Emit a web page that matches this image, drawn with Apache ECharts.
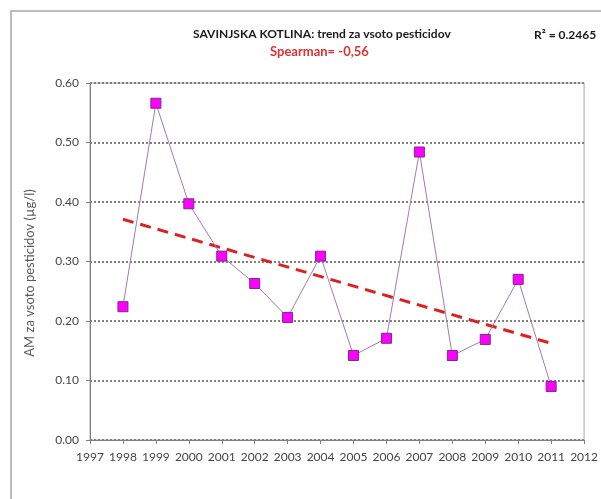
<!DOCTYPE html>
<html><head><meta charset="utf-8">
<script src="https://cdn.jsdelivr.net/npm/echarts@6/dist/echarts.min.js"></script>
<style>html,body{margin:0;padding:0;background:#fff}#c{width:601px;height:499px}</style>
</head><body><div id="c"></div>
<script>
const years = [1998,1999,2000,2001,2002,2003,2004,2005,2006,2007,2008,2009,2010,2011];
const values = [0.224,0.566,0.397,0.309,0.263,0.206,0.309,0.142,0.171,0.484,0.142,0.169,0.270,0.090];
const trendYears = [1998, 2011];
const trendValues = [0.371, 0.1625];
const titleText = 'SAVINJSKA KOTLINA: trend za vsoto pesticidov';
const spearmanText = 'Spearman= -0,56';
const r2Text = 'R² = 0.2465';
const yAxisName = 'AM za vsoto pesticidov (µg/l)';

const FONT = 'Lato';
const chart = echarts.init(document.getElementById('c'), null, {renderer:'canvas'});
chart.setOption({
  animation:false,
  backgroundColor:'#fff',
  textStyle:{fontFamily:FONT},
  graphic:[
    {type:'rect', shape:{x:11,y:11,width:620,height:520}, style:{fill:'none', stroke:'#a6a6a6', lineWidth:1.5}, z:-1},
    {type:'text', left:193, top:28, style:{text:titleText, font:'bold 12px '+FONT, fill:'#1a1a1a'}},
    {type:'text', left:270, top:45, style:{text:spearmanText, font:'bold 13px '+FONT, fill:'#e03030'}},
    {type:'text', left:534, top:29, style:{text:r2Text, font:'bold 12px '+FONT, fill:'#1a1a1a'}},
    {type:'text', x:30, y:273, rotation:Math.PI/2,
     style:{text:yAxisName, font:'13px '+FONT, fill:'#595959', align:'center', verticalAlign:'middle'}}
  ],
  grid:{left:90, right:14, top:83, bottom:59, show:true, borderColor:'#a6a6a6', borderWidth:1},
  xAxis:{type:'value', min:1997, max:2012, interval:1,
    axisLine:{show:true, onZero:false, lineStyle:{color:'#808080', width:1}},
    axisTick:{show:true, length:4, lineStyle:{color:'#808080'}},
    axisLabel:{color:'#454545', fontSize:12, fontFamily:FONT, margin:11, formatter:v=>String(v)},
    splitLine:{show:false}},
  yAxis:{type:'value', min:0, max:0.6, interval:0.1,
    axisLine:{show:true, lineStyle:{color:'#808080', width:1}},
    axisTick:{show:true, length:4, lineStyle:{color:'#808080'}},
    axisLabel:{color:'#454545', fontSize:12, fontFamily:FONT, margin:11, formatter:v=>v.toFixed(2)},
    splitLine:{show:true, lineStyle:{color:'#808080', type:'dotted', width:2}}},
  series:[
    {type:'line', data:years.map((y,i)=>[y,values[i]]),
     symbol:'rect', symbolSize:10,
     lineStyle:{color:'#a07cb0', width:1},
     itemStyle:{color:'#ff00ff', borderColor:'#7a2a8a', borderWidth:1}, z:3},
    {type:'line', data:trendYears.map((y,i)=>[y,trendValues[i]]), symbol:'none',
     lineStyle:{color:'#dd2020', width:3, type:[11,7]}, z:2}
  ]
});
</script></body></html>
